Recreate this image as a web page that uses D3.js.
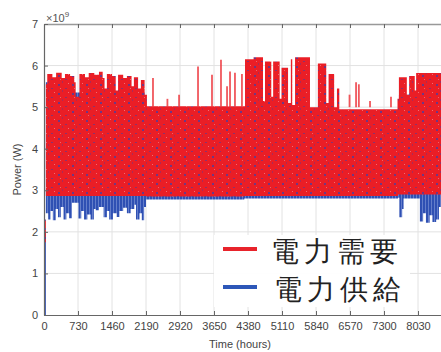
<!DOCTYPE html>
<html>
<head>
<meta charset="utf-8">
<script src="https://cdn.jsdelivr.net/npm/d3@7"></script>
<style>
  body { margin: 0; background: #fff; }
  text { font-family: "Liberation Sans", Arial, sans-serif; }
</style>
</head>
<body>
<svg id="chart" width="441" height="352"></svg>
<script>
// values (hours, W x 1e9)
const xTicks = [0, 730, 1460, 2190, 2920, 3650, 4380, 5110, 5840, 6570, 7300, 8030];
const yTicks = [0, 1, 2, 3, 4, 5, 6, 7];
const seriesNames = ['電力需要', '電力供給'];

// upper / lower envelope of each series as [hour, value] steps
const demandTop = [
  [0, 2.3], [40, 5.55], [70, 5.8], [180, 5.72], [260, 5.83], [380, 5.7], [450, 5.8], [560, 5.75],
  [650, 5.6], [680, 5.25], [760, 5.8], [880, 5.72], [960, 5.82], [1080, 5.78], [1180, 5.85],
  [1260, 5.7], [1300, 5.45], [1350, 5.8], [1460, 5.75], [1540, 5.4], [1590, 5.78], [1700, 5.7],
  [1780, 5.75], [1880, 5.5], [1930, 5.72], [2020, 5.45], [2080, 5.65], [2160, 5.3], [2210, 5.02],
  [4316, 6.15], [4500, 6.2], [4702, 5.15], [4745, 6.1], [4880, 5.25], [4920, 6.1], [5060, 5.2],
  [5100, 5.95], [5240, 5.1], [5300, 6.15], [5330, 5.05], [5390, 6.2], [5711, 5.0], [5880, 6.05],
  [6060, 5.1], [6110, 5.8], [6230, 5.0], [6290, 5.45], [6340, 4.95],
  [7590, 5.2], [7620, 5.72], [7790, 5.3], [7840, 5.75], [7960, 5.4], [7990, 5.82], [8760, 5.82]
];
const demandBottom = [[0, 1.75], [40, 2.86], [2200, 2.85], [4300, 2.86], [7600, 2.9], [8760, 2.9]];
const demandSpikes = [
  [2340, 5.7], [2650, 5.2], [2900, 5.3], [3307, 5.98], [3607, 5.78], [3800, 6.14], [3930, 5.5],
  [3994, 5.86], [4100, 5.83], [4250, 5.8], [6560, 5.3], [6700, 5.6], [6760, 5.55], [7000, 5.15],
  [7450, 5.25]
];

const supplyTop = [
  [0, 2.0], [40, 5.6], [120, 5.35], [2160, 4.9], [7600, 4.9], [7620, 5.3], [8760, 5.4]
];
const supplyBottom = [
  [0, 0], [40, 2.45], [90, 2.3], [140, 2.5], [190, 2.28], [250, 2.55], [300, 2.35], [360, 2.6],
  [420, 2.3], [480, 2.45], [540, 2.33], [600, 2.7], [740, 2.32], [800, 2.5], [860, 2.3],
  [930, 2.42], [1000, 2.3], [1070, 2.55], [1110, 2.52], [1180, 2.6], [1280, 2.35], [1350, 2.5],
  [1400, 2.3], [1480, 2.45], [1560, 2.36], [1620, 2.5], [1700, 2.58], [1780, 2.45], [1860, 2.55],
  [1940, 2.65], [1975, 2.3], [2050, 2.45], [2100, 2.28], [2150, 2.6], [2190, 2.78],
  [4300, 2.8], [7600, 2.82], [7630, 2.35], [7690, 2.55], [7720, 2.8], [8070, 2.25],
  [8140, 2.45], [8200, 2.22], [8280, 2.4], [8340, 2.24], [8420, 2.3], [8480, 2.6], [8760, 2.6]
];

const svg = d3.select('#chart');
const mLeft = 44, mRight = 452, mTop = 24, mBottom = 315;

const x = d3.scaleLinear().domain([0, 8760]).range([mLeft, mRight]);
const y = d3.scaleLinear().domain([0, 7]).range([mBottom, mTop]);

const defs = svg.append('defs');
defs.append('clipPath').attr('id', 'plot')
  .append('rect').attr('x', mLeft).attr('y', mTop).attr('width', mRight - mLeft).attr('height', mBottom - mTop);

// texture for the dense hourly traces
const pd = defs.append('pattern').attr('id', 'demandTex')
  .attr('patternUnits', 'userSpaceOnUse').attr('width', 14).attr('height', 9);
pd.append('rect').attr('width', 14).attr('height', 9).attr('fill', '#ea1e26');
[[2, 3, 2, 2, 0.7], [9, 7, 2, 1, 0.55], [6, 0, 1, 2, 0.35]].forEach(r => {
  pd.append('rect').attr('x', r[0]).attr('y', r[1]).attr('width', r[2]).attr('height', r[3])
    .attr('fill', '#3a40ad').attr('opacity', r[4]);
});
pd.append('rect').attr('x', 12).attr('y', 2).attr('width', 1).attr('height', 1).attr('fill', '#fff').attr('opacity', 0.35);
pd.append('rect').attr('x', 4).attr('y', 7).attr('width', 1).attr('height', 1).attr('fill', '#fff').attr('opacity', 0.3);

const ps = defs.append('pattern').attr('id', 'supplyTex')
  .attr('patternUnits', 'userSpaceOnUse').attr('width', 3).attr('height', 4);
ps.append('rect').attr('width', 3).attr('height', 4).attr('fill', '#2f50b3');
ps.append('rect').attr('x', 2).attr('width', 1).attr('height', 4).attr('fill', '#7088cf').attr('opacity', 0.8);

// grid
const grid = svg.append('g');
grid.selectAll('.gx').data(xTicks.filter(d => d > 0)).enter().append('line')
  .attr('x1', d => x(d)).attr('x2', d => x(d)).attr('y1', mTop).attr('y2', mBottom)
  .attr('stroke', '#e2e2e2').attr('stroke-width', 1);
grid.selectAll('.gy').data(yTicks.filter(d => d > 0 && d < 7)).enter().append('line')
  .attr('x1', mLeft).attr('x2', mRight).attr('y1', d => y(d)).attr('y2', d => y(d))
  .attr('stroke', '#e2e2e2').attr('stroke-width', 1);

function stepAt(arr, h) {
  let v = arr[0][1];
  for (const p of arr) { if (p[0] <= h) v = p[1]; else break; }
  return v;
}
function band(topArr, botArr) {
  const hs = Array.from(new Set([...topArr.map(d => d[0]), ...botArr.map(d => d[0]), 8760])).sort((a, b) => a - b);
  return hs.map(h => ({ h: h, lo: stepAt(botArr, h), hi: stepAt(topArr, h) }));
}
const area = d3.area().curve(d3.curveStepAfter)
  .x(d => x(d.h)).y0(d => y(d.lo)).y1(d => y(d.hi));

const plot = svg.append('g').attr('clip-path', 'url(#plot)');
plot.append('path').datum(band(supplyTop, supplyBottom))
  .attr('d', area).attr('fill', 'url(#supplyTex)');
plot.append('path').datum(band(demandTop, demandBottom))
  .attr('d', area).attr('fill', 'url(#demandTex)');
plot.selectAll('.spike').data(demandSpikes).enter().append('line')
  .attr('x1', d => x(d[0])).attr('x2', d => x(d[0]))
  .attr('y1', y(5.0)).attr('y2', d => y(d[1]))
  .attr('stroke', '#ee3a40').attr('stroke-width', 1.8).attr('opacity', 0.85);

// axes
const fmt = d3.format('d');
const xAxis = svg.append('g').attr('transform', `translate(0,${mBottom})`)
  .call(d3.axisBottom(x).tickValues(xTicks).tickFormat(fmt).tickSize(-4).tickSizeOuter(0).tickPadding(7));
const xTop = svg.append('g').attr('transform', `translate(0,${mTop})`)
  .call(d3.axisTop(x).tickValues(xTicks).tickSize(-4).tickSizeOuter(0).tickFormat(''));
const yAxis = svg.append('g').attr('transform', `translate(${mLeft},0)`)
  .call(d3.axisLeft(y).tickValues(yTicks).tickFormat(fmt).tickSize(-4).tickSizeOuter(0).tickPadding(6));

[xAxis, xTop, yAxis].forEach(g => {
  g.select('.domain').attr('stroke', '#666').attr('stroke-width', 1.2);
  g.selectAll('.tick line').attr('stroke', '#666');
  g.selectAll('.tick text').attr('fill', '#444').attr('font-size', 11);
});
xTop.select('.domain').attr('stroke', '#999').attr('stroke-width', 1.5);

// exponent label
const ex = svg.append('text').attr('x', 46).attr('y', 22).attr('fill', '#555').attr('font-size', 11);
ex.append('tspan').text('×10');
ex.append('tspan').attr('dy', -5).attr('font-size', 8).text('9');

svg.append('text')
  .attr('transform', `translate(21,${(mTop + mBottom) / 2}) rotate(-90)`)
  .attr('text-anchor', 'middle').attr('fill', '#444').attr('font-size', 11)
  .text('Power (W)');
svg.append('text')
  .attr('x', 240).attr('y', 348).attr('text-anchor', 'middle')
  .attr('fill', '#444').attr('font-size', 11)
  .text('Time (hours)');

// legend
const legend = svg.append('g');
legend.append('rect').attr('x', 214).attr('y', 235).attr('width', 196).attr('height', 72)
  .attr('fill', '#fff').attr('opacity', 0.95);
const colors = ['#e8232b', '#2d57b8'];
seriesNames.forEach((name, i) => {
  const ly = 249 + i * 38;
  legend.append('line').attr('x1', 223).attr('x2', 257).attr('y1', ly).attr('y2', ly)
    .attr('stroke', colors[i]).attr('stroke-width', 4);
  legend.append('text').attr('x', 271 + i * 3).attr('y', ly + 12)
    .attr('font-family', '"Noto Sans CJK JP", sans-serif')
    .attr('font-size', 28).attr('letter-spacing', 5).attr('fill', '#222')
    .text(name);
});
</script>
</body>
</html>
